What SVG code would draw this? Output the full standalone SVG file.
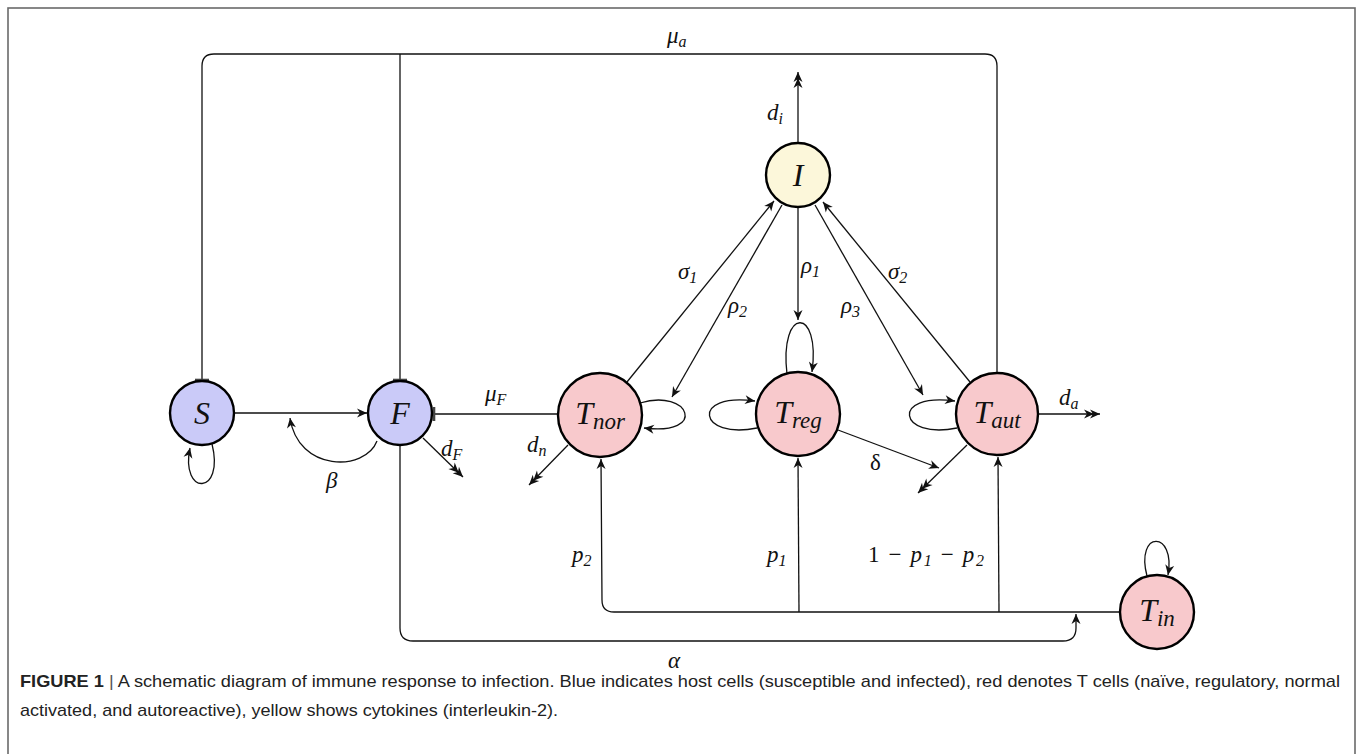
<svg xmlns="http://www.w3.org/2000/svg" width="1360" height="754" viewBox="0 0 1360 754">
<style>
.frame{fill:none;stroke:#6a6a6a;stroke-width:1.6}
.node{stroke:#000;stroke-width:2.4}
.blue{fill:#cacaf8}
.pink{fill:#f8c9cc}
.yel{fill:#fcf7da}
.c{fill:none;stroke:#111;stroke-width:1.3}
.nl{font-family:"Liberation Serif","DejaVu Serif",serif;font-style:italic;font-size:32px;fill:#111}
.el{font-family:"Liberation Serif","DejaVu Serif",serif;font-style:italic;font-size:23px;fill:#111}
.sub{font-size:16px}
.nsub{font-size:23px}
.cap{font-family:"Liberation Sans",Arial,sans-serif;font-size:17px;fill:#222}
</style>
<defs>
<marker id="arr" viewBox="-12 -6 14 12" refX="0" refY="0" markerWidth="14" markerHeight="12" markerUnits="userSpaceOnUse" orient="auto">
<path d="M0,0 L-10,-4.5 L-7,0 L-10,4.5 Z" fill="#111"/>
</marker>
<marker id="arr2" viewBox="-20 -6 22 12" refX="0" refY="0" markerWidth="22" markerHeight="12" markerUnits="userSpaceOnUse" orient="auto">
<path d="M0,0 L-10,-4.5 L-7,0 L-10,4.5 Z M-6,0 L-16,-4.5 L-13,0 L-16,4.5 Z" fill="#111"/>
</marker>
<marker id="tbar" viewBox="-3 -9 6 18" refX="0" refY="0" markerWidth="6" markerHeight="18" markerUnits="userSpaceOnUse" orient="auto">
<path d="M0,-7 L0,7" stroke="#444" stroke-width="2.6"/>
</marker>
</defs>
<rect x="0" y="0" width="1360" height="754" fill="#fff"/>
<rect class="frame" x="8" y="8" width="1347" height="760"/>

<g id="connectors">
<path class="c" d="M997,373 V66 Q997,54 985,54 H214 Q202,54 202,66 V380" marker-end="url(#tbar)"/>
<path class="c" d="M400,54 V380" marker-end="url(#tbar)"/>
<path class="c" d="M798,143 V72" marker-end="url(#arr2)"/>
<path class="c" d="M627,382 L774,201" marker-end="url(#arr)"/>
<path class="c" d="M782,205 L672,397" marker-end="url(#arr)"/>
<path class="c" d="M798,207 V320" marker-end="url(#arr)"/>
<path class="c" d="M815,205 L923,395" marker-end="url(#arr)"/>
<path class="c" d="M970,382 L823,202" marker-end="url(#arr)"/>
<path class="c" d="M640,403 C690,388 708,436 644,428" marker-end="url(#arr)"/>
<path class="c" d="M757,428 C698,440 690,392 755,401" marker-end="url(#arr)"/>
<path class="c" d="M787,374 C779,306 821,306 812,372" marker-end="url(#arr)"/>
<path class="c" d="M957,428 C898,440 890,392 955,401" marker-end="url(#arr)"/>
<path class="c" d="M1038,414 H1100" marker-end="url(#arr2)"/>
<path class="c" d="M838,430 L939,468" marker-end="url(#arr)"/>
<path class="c" d="M967,445 L918,493" marker-end="url(#arr2)"/>
<path class="c" d="M568,445 L529,485" marker-end="url(#arr2)"/>
<path class="c" d="M423,438 L463,477" marker-end="url(#arr2)"/>
<path class="c" d="M234,413 H367" marker-end="url(#arr)"/>
<path class="c" d="M377,441 C365,472 298,472 290,418" marker-end="url(#arr)"/>
<path class="c" d="M212,444 C225,496 180,496 190,448" marker-end="url(#arr)"/>
<path class="c" d="M558,414 H434" marker-end="url(#tbar)"/>
<path class="c" d="M1120,612 H614 Q602,612 602,600 L601,459" marker-end="url(#arr)"/>
<path class="c" d="M799,612 L798,458" marker-end="url(#arr)"/>
<path class="c" d="M999,612 L998,457" marker-end="url(#arr)"/>
<path class="c" d="M400,445 V628 Q400,641 413,641 H1063 Q1076,641 1076,628 V614" marker-end="url(#arr)"/>
<path class="c" d="M1147,576 C1135,530 1176,530 1168,575" marker-end="url(#arr)"/>
</g>

<g id="labels">
<text class="el" x="667" y="43">μ<tspan class="sub" dy="4">a</tspan></text>
<text class="el" x="767" y="120">d<tspan class="sub" dy="4">i</tspan></text>
<text class="el" x="678" y="279">σ<tspan class="sub" dy="4">1</tspan></text>
<text class="el" x="728" y="313">ρ<tspan class="sub" dy="4">2</tspan></text>
<text class="el" x="801" y="273">ρ<tspan class="sub" dy="4">1</tspan></text>
<text class="el" x="841" y="313">ρ<tspan class="sub" dy="4">3</tspan></text>
<text class="el" x="888" y="279">σ<tspan class="sub" dy="4">2</tspan></text>
<text class="el" x="485" y="401">μ<tspan class="sub" dy="4">F</tspan></text>
<text class="el" x="527" y="452">d<tspan class="sub" dy="4">n</tspan></text>
<text class="el" x="441" y="456">d<tspan class="sub" dy="4">F</tspan></text>
<text class="el" x="326" y="488">β</text>
<text class="el" x="870" y="470" style="font-style:normal">δ</text>
<text class="el" x="1059" y="405">d<tspan class="sub" dy="4">a</tspan></text>
<text class="el" x="572" y="562">p<tspan class="sub" dy="4">2</tspan></text>
<text class="el" x="767" y="562">p<tspan class="sub" dy="4">1</tspan></text>
<text class="el" x="868" y="562" textLength="116" lengthAdjust="spacing"><tspan style="font-style:normal">1 − </tspan>p<tspan class="sub" dy="4">1</tspan><tspan dy="-4" style="font-style:normal"> − </tspan>p<tspan class="sub" dy="4">2</tspan></text>
<text class="el" x="668" y="668">α</text>
</g>

<g id="S"><circle class="node blue" cx="202" cy="413" r="32"/><text class="nl" x="202" y="424" text-anchor="middle">S</text></g>
<g id="F"><circle class="node blue" cx="400" cy="413" r="32"/><text class="nl" x="400" y="424" text-anchor="middle">F</text></g>
<g id="I"><circle class="node yel" cx="798" cy="175" r="32"/><text class="nl" x="798" y="186" text-anchor="middle">I</text></g>
<g id="Tnor"><circle class="node pink" cx="600" cy="415" r="42"/><text class="nl" x="600" y="424" text-anchor="middle">T<tspan class="nsub" dy="5">nor</tspan></text></g>
<g id="Treg"><circle class="node pink" cx="798" cy="414" r="42"/><text class="nl" x="798" y="423" text-anchor="middle">T<tspan class="nsub" dy="5">reg</tspan></text></g>
<g id="Taut"><circle class="node pink" cx="997" cy="414" r="41"/><text class="nl" x="997" y="423" text-anchor="middle">T<tspan class="nsub" dy="5">aut</tspan></text></g>
<g id="Tin"><circle class="node pink" cx="1157" cy="612" r="37"/><text class="nl" x="1157" y="621" text-anchor="middle">T<tspan class="nsub" dy="5">in</tspan></text></g>

<g id="caption">
<text class="cap" x="20" y="687" textLength="1320" lengthAdjust="spacingAndGlyphs"><tspan font-weight="bold">FIGURE 1</tspan><tspan fill="#555"> | </tspan>A schematic diagram of immune response to infection. Blue indicates host cells (susceptible and infected), red denotes T cells (naïve, regulatory, normal</text>
<text class="cap" x="20" y="716" textLength="538" lengthAdjust="spacingAndGlyphs">activated, and autoreactive), yellow shows cytokines (interleukin-2).</text>
</g>
</svg>
